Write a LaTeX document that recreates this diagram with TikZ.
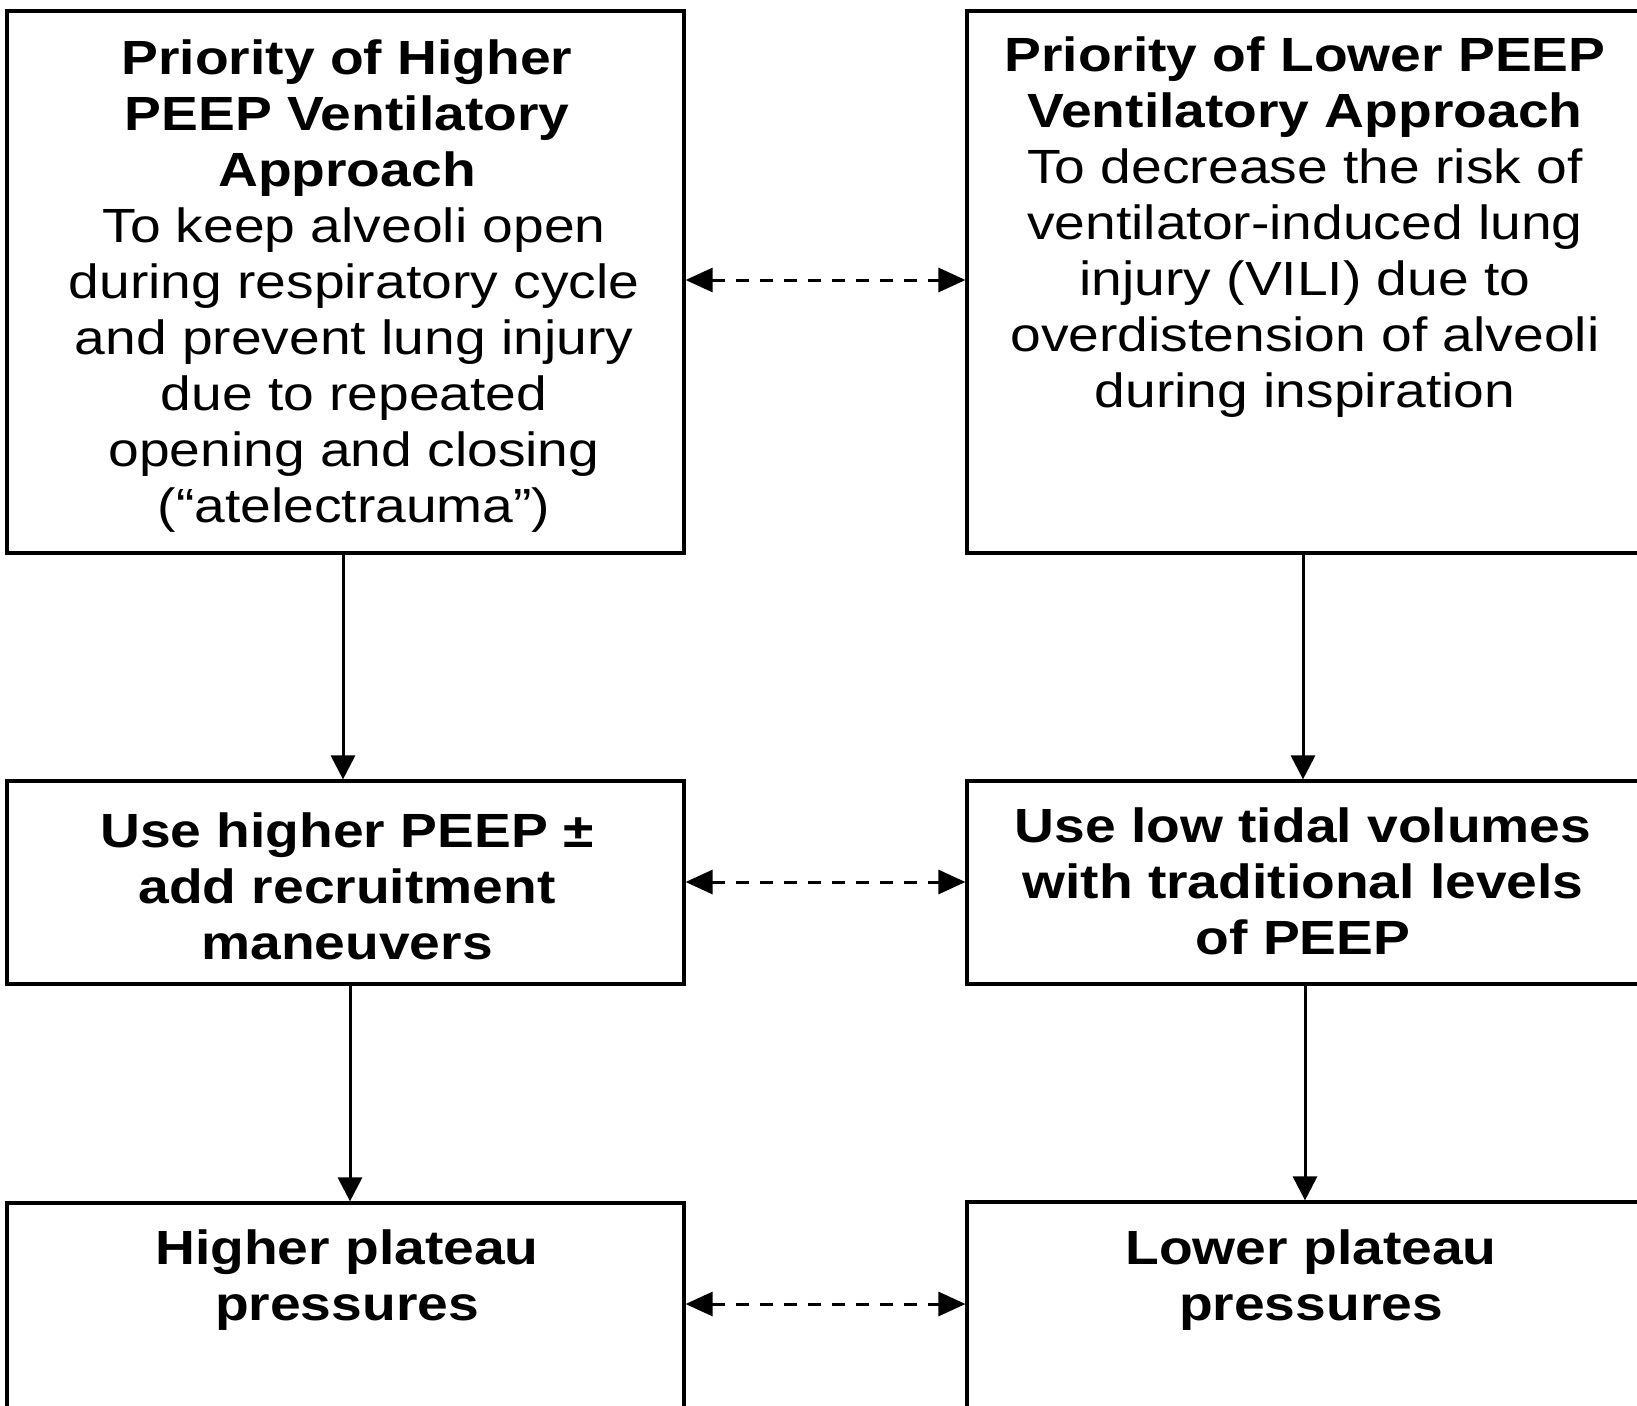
\documentclass[tikz,border=0pt]{standalone}
\usepackage{fontspec}
\setmainfont{Liberation Sans}[FakeStretch=1.15]
\usetikzlibrary{arrows.meta}
\begin{document}
\begin{tikzpicture}[x=1pt,y=-1pt,
  box/.style={draw=black,line width=3.2pt,rectangle,inner sep=0pt},
  label/.style={align=center,inner sep=0pt,font=\fontsize{48}{56}\selectfont},
  flow/.style={line width=3pt,-{Triangle[length=24pt,width=24pt]}},
  link/.style={line width=3pt,dash pattern=on 13pt off 11pt,
    {Triangle[length=27pt,width=24pt]}-{Triangle[length=27pt,width=24pt]}}]
\useasboundingbox (0,0) rectangle (1637,1405);
\clip (0,0) rectangle (1637,1405);
\fill[white] (0,0) rectangle (1637,1405);

% boxes
\node[box,minimum width=677pt,minimum height=542pt] (tl) at (345.5,282) {};
\node[box,minimum width=676pt,minimum height=542pt] (tr) at (1305,282) {};
\node[box,minimum width=677pt,minimum height=203pt] (ml) at (345.5,882.5) {};
\node[box,minimum width=676pt,minimum height=203pt] (mr) at (1305,882.5) {};
\node[box,minimum width=677pt,minimum height=220pt] (bl) at (345.5,1313) {};
\node[box,minimum width=676pt,minimum height=220pt] (br) at (1305,1312) {};

% texts
\node[label,anchor=north] (tlhead) at (347,40) {\textbf{Priority of Higher}\\\textbf{PEEP Ventilatory}\\\textbf{Approach}};
\node[label,anchor=north] (tlbody) at (354,208) {To keep alveoli open\\during respiratory cycle\\and prevent lung injury\\due to repeated\\opening and closing\\(“atelectrauma”)};
\node[label] (trtext) at (1305,227) {\textbf{Priority of Lower PEEP}\\\textbf{Ventilatory Approach}\\To decrease the risk of\\ventilator-induced lung\\injury (VILI) due to\\overdistension of alveoli\\during inspiration};
\node[label] (mltext) at (347,886) {\textbf{Use higher PEEP ±}\\\textbf{add recruitment}\\\textbf{maneuvers}};
\node[label] (mrtext) at (1303,881) {\textbf{Use low tidal volumes}\\\textbf{with traditional levels}\\\textbf{of PEEP}};
\node[label] (bltext) at (347,1280) {\textbf{Higher plateau}\\\textbf{pressures}};
\node[label] (brtext) at (1311,1280) {\textbf{Lower plateau}\\\textbf{pressures}};

% vertical flow arrows
\draw[flow] (tl.south -| 343,0) -- (ml.north -| 343,0);
\draw[flow] (ml.south -| 350,0) -- (bl.north -| 350,0);
\draw[flow] (tr.south -| 1303,0) -- (mr.north -| 1303,0);
\draw[flow] (mr.south -| 1305,0) -- (br.north -| 1305,0);

% dashed links between the two approaches
\draw[link] (tl.east |- 0,280) -- (tr.west |- 0,280);
\draw[link] (ml.east |- 0,882) -- (mr.west |- 0,882);
\draw[link] (bl.east |- 0,1304) -- (br.west |- 0,1304);
\end{tikzpicture}
\end{document}
